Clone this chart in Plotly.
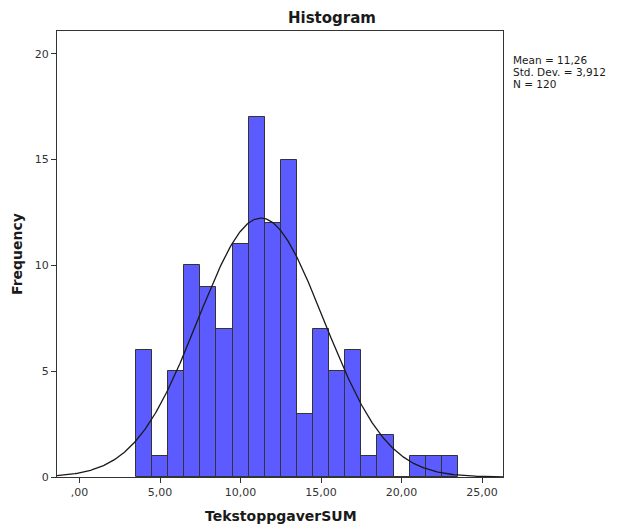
import numpy as np
import plotly.graph_objects as go

# Data
bin_centers = [4, 5, 6, 7, 8, 9, 10, 11, 12, 13, 14, 15, 16, 17, 18, 19, 20, 21, 22, 23]
counts = [6, 1, 5, 10, 9, 7, 11, 17, 12, 15, 3, 7, 5, 6, 1, 2, 0, 1, 1, 1]
mean_val = 11.26
std_val = 3.912
n_val = 120
bin_width = 1.0

x_tick_vals = [0, 5, 10, 15, 20, 25]
x_tick_text = [",00", "5,00", "10,00", "15,00", "20,00", "25,00"]
y_tick_vals = [0, 5, 10, 15, 20]

W, H = 618, 526
ml, mr, mt, mb = 57, 115, 31, 49
pw, ph = W - ml - mr, H - mt - mb

x_range = [-1.4, 26.3]
y_range = [0, 21.08]

fig = go.Figure()
fig.add_trace(go.Bar(
    x=bin_centers, y=counts, width=[bin_width] * len(bin_centers),
    marker=dict(color="#5b5bff", line=dict(color="#333333", width=1)),
    hoverinfo="x+y", showlegend=False,
))

xs = np.linspace(x_range[0], x_range[1], 400)
ys = n_val * bin_width * np.exp(-0.5 * ((xs - mean_val) / std_val) ** 2) / (std_val * np.sqrt(2 * np.pi))
fig.add_trace(go.Scatter(x=xs, y=ys, mode="lines", line=dict(color="#1a1a1a", width=1.3),
                         showlegend=False, hoverinfo="skip"))

font_family = "DejaVu Sans"

def px_x(p):
    return (p - ml) / pw

def px_y(p):
    return 1 - (p - mt) / ph

annots = []
annots.append(dict(text="<b>Histogram</b>", x=px_x(332), y=px_y(18), xref="paper", yref="paper",
                   showarrow=False, font=dict(size=15, color="#1a1a1a", family=font_family),
                   xanchor="center", yanchor="middle"))
annots.append(dict(text="<b>TekstoppgaverSUM</b>", x=px_x(281), y=px_y(516), xref="paper", yref="paper",
                   showarrow=False, font=dict(size=14, color="#1a1a1a", family=font_family),
                   xanchor="center", yanchor="middle"))
annots.append(dict(text="<b>Frequency</b>", x=px_x(17), y=px_y(254), xref="paper", yref="paper",
                   showarrow=False, textangle=-90, font=dict(size=14, color="#1a1a1a", family=font_family),
                   xanchor="center", yanchor="middle"))
stats = ["Mean = 11,26", "Std. Dev. = 3,912", "N = 120"]
for i, s in enumerate(stats):
    annots.append(dict(text=s, x=px_x(511), y=px_y(60 + i * 12), xref="paper", yref="paper",
                       showarrow=False, font=dict(size=10.5, color="#1a1a1a", family=font_family),
                       xanchor="left", yanchor="middle"))

fig.update_layout(
    width=W, height=H,
    margin=dict(l=ml, r=mr, t=mt, b=mb, autoexpand=False),
    paper_bgcolor="white", plot_bgcolor="white",
    bargap=0,
    annotations=annots,
    font=dict(family=font_family, color="#333333"),
    xaxis=dict(range=x_range, tickvals=x_tick_vals, ticktext=x_tick_text,
               ticks="outside", ticklen=5, tickcolor="#333333", automargin=False,
               showline=True, linecolor="#333333", linewidth=1.2, mirror=True,
               showgrid=False, zeroline=False, tickfont=dict(size=11, color="#333333")),
    yaxis=dict(range=y_range, tickvals=y_tick_vals,
               ticks="outside", ticklen=5, tickcolor="#333333", automargin=False,
               showline=True, linecolor="#333333", linewidth=1.2, mirror=True,
               showgrid=False, zeroline=False, tickfont=dict(size=11, color="#333333")),
)

fig.write_html("out.html")
